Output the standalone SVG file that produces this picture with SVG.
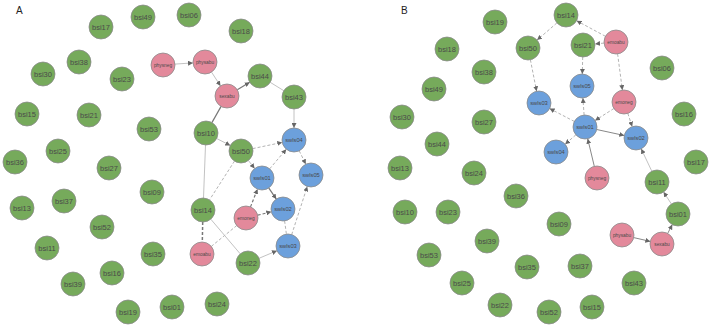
<svg xmlns="http://www.w3.org/2000/svg" width="711" height="327" viewBox="0 0 711 327">
<defs>
<marker id="ar" markerWidth="5" markerHeight="5" refX="5" refY="2.5" orient="auto" markerUnits="userSpaceOnUse"><path d="M0,0 L5,2.5 L0,5 z" fill="#666"/></marker>
</defs>
<style>
text{font-family:"Liberation Sans",Arial,sans-serif;text-anchor:middle;dominant-baseline:central;fill:#4a4a4a}
.g circle{fill:#76aa5b;stroke:#8a8a8a;stroke-width:0.8}
.p circle{fill:#e3899b;stroke:#8a8a8a;stroke-width:0.8}
.b circle{fill:#6ca0dc;stroke:#8a8a8a;stroke-width:0.8}
.g text{font-size:7.5px}
.p text{font-size:4.8px}
.b text{font-size:5.8px}
.lab{font-size:10px;fill:#222;text-anchor:start}
.ls{stroke:#bbb;stroke-width:0.9;fill:none}
.ds{stroke:#777;stroke-width:1.2;fill:none}
.ld{stroke:#aaa;stroke-width:0.9;stroke-dasharray:3,2;fill:none}
.dd{stroke:#777;stroke-width:1.2;stroke-dasharray:3,2;fill:none}
.a{marker-end:url(#ar)}
</style>
<rect width="711" height="327" fill="#fff"/>
<text class="lab" x="16" y="10">A</text>
<text class="lab" x="401" y="10">B</text>
<g id="edges">
<line class="ls a" x1="175" y1="64.1" x2="193" y2="62.9"/>
<line class="ls a" x1="211.5" y1="72.1" x2="220.5" y2="85.9"/>
<line class="ds a" x1="237.3" y1="89.8" x2="249.7" y2="82.2"/>
<line class="ds" x1="221.1" y1="106.4" x2="211.9" y2="122.6"/>
<line class="ls" x1="270.2" y1="82.3" x2="283.8" y2="90.7"/>
<line class="ls a" x1="294" y1="109" x2="294" y2="128"/>
<line class="ls a" x1="216.7" y1="138.5" x2="230.3" y2="145.5"/>
<line class="ld a" x1="252.7" y1="148.6" x2="282.3" y2="142.4"/>
<line class="ls" x1="205.5" y1="145" x2="203.5" y2="198"/>
<line class="ld" x1="234.5" y1="161.1" x2="209.5" y2="199.9"/>
<line class="ls a" x1="248.4" y1="160.5" x2="254.6" y2="168.5"/>
<line class="ld a" x1="269.7" y1="168.8" x2="286.3" y2="149.2"/>
<line class="ld a" x1="299.2" y1="150.8" x2="305.8" y2="164.2"/>
<line class="ds a" x1="268.7" y1="187.9" x2="276.3" y2="199.1"/>
<line class="dd a" x1="250.5" y1="206.9" x2="257.5" y2="189.1"/>
<line class="dd a" x1="257.7" y1="215.2" x2="271.3" y2="211.8"/>
<line class="ld" x1="284.6" y1="220.9" x2="286.4" y2="234.1"/>
<line class="ld a" x1="291.7" y1="234.6" x2="307.3" y2="186.4"/>
<line class="dd" x1="202.7" y1="222" x2="202.3" y2="242" style="stroke-width:1.5"/>
<line class="ld" x1="211.3" y1="246.4" x2="236.7" y2="225.6"/>
<line class="ls" x1="210.8" y1="219.2" x2="240.2" y2="253.8"/>
<line class="ls a" x1="259" y1="258.3" x2="277" y2="250.7"/>
<line class="ld a" x1="605.4" y1="36.3" x2="576.6" y2="20.7"/>
<line class="ld a" x1="604" y1="43.1" x2="595" y2="43.9"/>
<line class="ld a" x1="556.9" y1="22.9" x2="537.1" y2="40.1"/>
<line class="ld a" x1="530.4" y1="59.8" x2="536.6" y2="91.2"/>
<line class="ld a" x1="582.7" y1="57" x2="582.3" y2="74"/>
<line class="ld a" x1="617.6" y1="53.9" x2="622.4" y2="90.1"/>
<line class="ld a" x1="613.9" y1="108.5" x2="595.1" y2="120.5"/>
<line class="ld a" x1="627.8" y1="113.4" x2="632.2" y2="126.6"/>
<line class="ld a" x1="584.1" y1="115" x2="582.9" y2="98"/>
<line class="ld a" x1="574.4" y1="121.5" x2="549.6" y2="108.5"/>
<line class="ld a" x1="575.9" y1="134.8" x2="565.1" y2="144.2"/>
<line class="ds a" x1="596.7" y1="129.5" x2="624.3" y2="135.5" style="stroke:#888;stroke-width:1"/>
<line class="ds a" x1="594.3" y1="166.3" x2="587.7" y2="138.7" style="stroke:#888;stroke-width:1"/>
<line class="ls a" x1="651.8" y1="171.2" x2="641.2" y2="148.8"/>
<line class="ls a" x1="671.4" y1="204" x2="663.6" y2="192"/>
<line class="ds a" x1="667.7" y1="233.4" x2="672.3" y2="224.6" style="stroke:#888;stroke-width:1"/>
<line class="ds a" x1="633.7" y1="237.6" x2="650.3" y2="241.4" style="stroke:#888;stroke-width:1"/>
</g>
<g id="A_bsi17" class="g"><circle cx="101" cy="27" r="12"/><text x="101" y="27">bsi17</text></g>
<g id="A_bsi49" class="g"><circle cx="143" cy="17" r="12"/><text x="143" y="17">bsi49</text></g>
<g id="A_bsi06" class="g"><circle cx="189" cy="15" r="12"/><text x="189" y="15">bsi06</text></g>
<g id="A_bsi18" class="g"><circle cx="241" cy="31" r="12"/><text x="241" y="31">bsi18</text></g>
<g id="A_bsi38" class="g"><circle cx="79" cy="62" r="12"/><text x="79" y="62">bsi38</text></g>
<g id="A_bsi30" class="g"><circle cx="43" cy="74" r="12"/><text x="43" y="74">bsi30</text></g>
<g id="A_bsi23" class="g"><circle cx="122" cy="79" r="12"/><text x="122" y="79">bsi23</text></g>
<g id="A_bsi15" class="g"><circle cx="27" cy="114" r="12"/><text x="27" y="114">bsi15</text></g>
<g id="A_bsi21" class="g"><circle cx="89" cy="115" r="12"/><text x="89" y="115">bsi21</text></g>
<g id="A_bsi53" class="g"><circle cx="149" cy="129" r="12"/><text x="149" y="129">bsi53</text></g>
<g id="A_bsi25" class="g"><circle cx="58" cy="151" r="12"/><text x="58" y="151">bsi25</text></g>
<g id="A_bsi36" class="g"><circle cx="15" cy="162" r="12"/><text x="15" y="162">bsi36</text></g>
<g id="A_bsi27" class="g"><circle cx="109" cy="168" r="12"/><text x="109" y="168">bsi27</text></g>
<g id="A_bsi09" class="g"><circle cx="152" cy="192" r="12"/><text x="152" y="192">bsi09</text></g>
<g id="A_bsi13" class="g"><circle cx="22" cy="208" r="12"/><text x="22" y="208">bsi13</text></g>
<g id="A_bsi37" class="g"><circle cx="64" cy="201" r="12"/><text x="64" y="201">bsi37</text></g>
<g id="A_bsi52" class="g"><circle cx="102" cy="227" r="12"/><text x="102" y="227">bsi52</text></g>
<g id="A_bsi11" class="g"><circle cx="47" cy="248" r="12"/><text x="47" y="248">bsi11</text></g>
<g id="A_bsi35" class="g"><circle cx="153" cy="254" r="12"/><text x="153" y="254">bsi35</text></g>
<g id="A_bsi16" class="g"><circle cx="112" cy="273" r="12"/><text x="112" y="273">bsi16</text></g>
<g id="A_bsi39" class="g"><circle cx="73" cy="284" r="12"/><text x="73" y="284">bsi39</text></g>
<g id="A_bsi19" class="g"><circle cx="128" cy="312" r="12"/><text x="128" y="312">bsi19</text></g>
<g id="A_bsi01" class="g"><circle cx="172" cy="307" r="12"/><text x="172" y="307">bsi01</text></g>
<g id="A_bsi24" class="g"><circle cx="217" cy="304" r="12"/><text x="217" y="304">bsi24</text></g>
<g id="A_bsi44" class="g"><circle cx="260" cy="76" r="12"/><text x="260" y="76">bsi44</text></g>
<g id="A_bsi43" class="g"><circle cx="294" cy="97" r="12"/><text x="294" y="97">bsi43</text></g>
<g id="A_bsi10" class="g"><circle cx="206" cy="133" r="12"/><text x="206" y="133">bsi10</text></g>
<g id="A_bsi50" class="g"><circle cx="241" cy="151" r="12"/><text x="241" y="151">bsi50</text></g>
<g id="A_bsi14" class="g"><circle cx="203" cy="210" r="12"/><text x="203" y="210">bsi14</text></g>
<g id="A_bsi22" class="g"><circle cx="248" cy="263" r="12"/><text x="248" y="263">bsi22</text></g>
<g id="A_physneg" class="p"><circle cx="163" cy="65" r="12"/><text x="163" y="65">physneg</text></g>
<g id="A_physabu" class="p"><circle cx="205" cy="62" r="12"/><text x="205" y="62">physabu</text></g>
<g id="A_sexabu" class="p"><circle cx="227" cy="96" r="12"/><text x="227" y="96">sexabu</text></g>
<g id="A_emoneg" class="p"><circle cx="246" cy="218" r="12"/><text x="246" y="218">emoneg</text></g>
<g id="A_emoabu" class="p"><circle cx="202" cy="254" r="12"/><text x="202" y="254">emoabu</text></g>
<g id="A_swls04" class="b"><circle cx="294" cy="140" r="12"/><text x="294" y="140">swls04</text></g>
<g id="A_swls01" class="b"><circle cx="262" cy="178" r="12"/><text x="262" y="178">swls01</text></g>
<g id="A_swls05" class="b"><circle cx="311" cy="175" r="12"/><text x="311" y="175">swls05</text></g>
<g id="A_swls02" class="b"><circle cx="283" cy="209" r="12"/><text x="283" y="209">swls02</text></g>
<g id="A_swls03" class="b"><circle cx="288" cy="246" r="12"/><text x="288" y="246">swls03</text></g>
<g id="B_bsi19" class="g"><circle cx="495" cy="22" r="12"/><text x="495" y="22">bsi19</text></g>
<g id="B_bsi18" class="g"><circle cx="447" cy="49" r="12"/><text x="447" y="49">bsi18</text></g>
<g id="B_bsi50" class="g"><circle cx="528" cy="48" r="12"/><text x="528" y="48">bsi50</text></g>
<g id="B_bsi38" class="g"><circle cx="484" cy="72" r="12"/><text x="484" y="72">bsi38</text></g>
<g id="B_bsi49" class="g"><circle cx="434" cy="89" r="12"/><text x="434" y="89">bsi49</text></g>
<g id="B_bsi30" class="g"><circle cx="402" cy="117" r="12"/><text x="402" y="117">bsi30</text></g>
<g id="B_bsi27" class="g"><circle cx="484" cy="122" r="12"/><text x="484" y="122">bsi27</text></g>
<g id="B_bsi44" class="g"><circle cx="437" cy="144" r="12"/><text x="437" y="144">bsi44</text></g>
<g id="B_bsi13" class="g"><circle cx="400" cy="168" r="12"/><text x="400" y="168">bsi13</text></g>
<g id="B_bsi24" class="g"><circle cx="474" cy="173" r="12"/><text x="474" y="173">bsi24</text></g>
<g id="B_bsi36" class="g"><circle cx="516" cy="196" r="12"/><text x="516" y="196">bsi36</text></g>
<g id="B_bsi10" class="g"><circle cx="405" cy="212" r="12"/><text x="405" y="212">bsi10</text></g>
<g id="B_bsi23" class="g"><circle cx="448" cy="212" r="12"/><text x="448" y="212">bsi23</text></g>
<g id="B_bsi39" class="g"><circle cx="487" cy="241" r="12"/><text x="487" y="241">bsi39</text></g>
<g id="B_bsi53" class="g"><circle cx="429" cy="255" r="12"/><text x="429" y="255">bsi53</text></g>
<g id="B_bsi35" class="g"><circle cx="527" cy="267" r="12"/><text x="527" y="267">bsi35</text></g>
<g id="B_bsi25" class="g"><circle cx="462" cy="283" r="12"/><text x="462" y="283">bsi25</text></g>
<g id="B_bsi22" class="g"><circle cx="500" cy="305" r="12"/><text x="500" y="305">bsi22</text></g>
<g id="B_bsi52" class="g"><circle cx="549" cy="312" r="12"/><text x="549" y="312">bsi52</text></g>
<g id="B_bsi09" class="g"><circle cx="559" cy="224" r="12"/><text x="559" y="224">bsi09</text></g>
<g id="B_bsi37" class="g"><circle cx="580" cy="266" r="12"/><text x="580" y="266">bsi37</text></g>
<g id="B_bsi15" class="g"><circle cx="592" cy="307" r="12"/><text x="592" y="307">bsi15</text></g>
<g id="B_bsi43" class="g"><circle cx="634" cy="283" r="12"/><text x="634" y="283">bsi43</text></g>
<g id="B_bsi14" class="g"><circle cx="566" cy="15" r="12"/><text x="566" y="15">bsi14</text></g>
<g id="B_bsi21" class="g"><circle cx="583" cy="45" r="12"/><text x="583" y="45">bsi21</text></g>
<g id="B_bsi06" class="g"><circle cx="662" cy="68" r="12"/><text x="662" y="68">bsi06</text></g>
<g id="B_bsi16" class="g"><circle cx="684" cy="114" r="12"/><text x="684" y="114">bsi16</text></g>
<g id="B_bsi17" class="g"><circle cx="696" cy="162" r="12"/><text x="696" y="162">bsi17</text></g>
<g id="B_bsi11" class="g"><circle cx="657" cy="182" r="12"/><text x="657" y="182">bsi11</text></g>
<g id="B_bsi01" class="g"><circle cx="678" cy="214" r="12"/><text x="678" y="214">bsi01</text></g>
<g id="B_emoabu" class="p"><circle cx="616" cy="42" r="12"/><text x="616" y="42">emoabu</text></g>
<g id="B_emoneg" class="p"><circle cx="624" cy="102" r="12"/><text x="624" y="102">emoneg</text></g>
<g id="B_physneg" class="p"><circle cx="597" cy="178" r="12"/><text x="597" y="178">physneg</text></g>
<g id="B_physabu" class="p"><circle cx="622" cy="235" r="12"/><text x="622" y="235">physabu</text></g>
<g id="B_sexabu" class="p"><circle cx="662" cy="244" r="12"/><text x="662" y="244">sexabu</text></g>
<g id="B_swls03" class="b"><circle cx="539" cy="103" r="12"/><text x="539" y="103">swls03</text></g>
<g id="B_swls05" class="b"><circle cx="582" cy="86" r="12"/><text x="582" y="86">swls05</text></g>
<g id="B_swls01" class="b"><circle cx="585" cy="127" r="12"/><text x="585" y="127">swls01</text></g>
<g id="B_swls02" class="b"><circle cx="636" cy="138" r="12"/><text x="636" y="138">swls02</text></g>
<g id="B_swls04" class="b"><circle cx="556" cy="152" r="12"/><text x="556" y="152">swls04</text></g>
</svg>
